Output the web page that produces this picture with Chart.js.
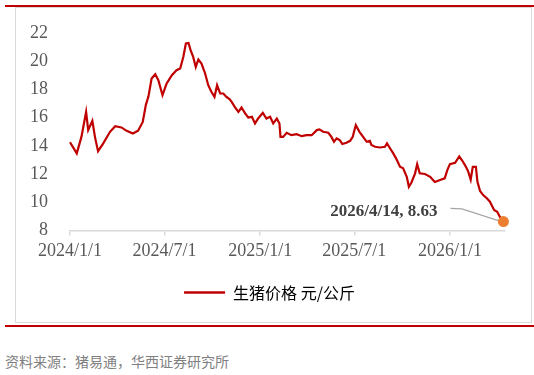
<!DOCTYPE html>
<html>
<head>
<meta charset="utf-8">
<script src="https://cdn.jsdelivr.net/npm/chart.js@4.4.1/dist/chart.umd.min.js"></script>
<style>
  html, body { margin: 0; padding: 0; background: #fff; }
  body { width: 534px; height: 375px; position: relative; overflow: hidden; }
  .redline { position: absolute; left: 5px; width: 529px; height: 2px; background: #c00000; }
  #frame { position: absolute; left: 15px; top: 7px; width: 517px; height: 316px; border: 1.5px solid #d9d9d9; box-sizing: border-box; }
  #wrap { position: absolute; left: 16px; top: 0px; width: 515px; height: 322px; }
  #source { position: absolute; left: 5px; top: 351px; font: 14px "Noto Sans CJK SC"; color: #808080; }
</style>
</head>
<body>
<div id="frame"></div>
<div id="wrap"><canvas id="c" width="515" height="322"></canvas></div>
<div class="redline" style="top:5px"></div>
<div class="redline" style="top:325px"></div>
<div id="source">资料来源：猪易通，华西证券研究所</div>
<script>
// 生猪价格 元/公斤
const dates = [
  '2024-01-01','2024-01-14','2024-01-23','2024-02-01','2024-02-05','2024-02-13','2024-02-18','2024-02-24',
  '2024-03-05','2024-03-18','2024-03-28','2024-04-09','2024-04-19','2024-05-01','2024-05-11','2024-05-20',
  '2024-05-26','2024-05-31','2024-06-06','2024-06-13','2024-06-19','2024-06-27','2024-07-05','2024-07-15',
  '2024-07-24','2024-07-31','2024-08-06','2024-08-11','2024-08-16','2024-08-20','2024-08-25','2024-08-30',
  '2024-09-04','2024-09-10','2024-09-17','2024-09-23','2024-09-29','2024-10-05','2024-10-10','2024-10-16',
  '2024-10-22','2024-10-28','2024-11-03','2024-11-07','2024-11-13','2024-11-20','2024-11-26','2024-12-03',
  '2024-12-09','2024-12-16','2024-12-22','2024-12-28','2025-01-06','2025-01-13','2025-01-20','2025-01-26',
  '2025-02-02','2025-02-07','2025-02-09','2025-02-14','2025-02-21','2025-03-02','2025-03-12','2025-03-22',
  '2025-03-31','2025-04-10','2025-04-20','2025-04-25','2025-05-02','2025-05-12','2025-05-18','2025-05-23',
  '2025-05-28','2025-06-03','2025-06-08','2025-06-16','2025-06-23','2025-06-28','2025-07-01','2025-07-04',
  '2025-07-11','2025-07-18','2025-07-25','2025-07-31','2025-08-03','2025-08-10','2025-08-19','2025-08-29',
  '2025-09-02','2025-09-08','2025-09-14','2025-09-21','2025-09-27','2025-10-03','2025-10-10','2025-10-14',
  '2025-10-19','2025-10-26','2025-10-30','2025-11-04','2025-11-14','2025-11-24','2025-12-03','2025-12-13',
  '2025-12-22','2025-12-27','2026-01-01','2026-01-11','2026-01-19','2026-01-24','2026-01-30','2026-02-05',
  '2026-02-10','2026-02-14','2026-02-20','2026-02-23','2026-02-28','2026-03-06','2026-03-13','2026-03-19',
  '2026-03-27','2026-04-02','2026-04-07','2026-04-14'
]
const prices = [
  14.25,13.46,14.63,16.40,15.11,15.77,14.63,13.62,
  14.17,14.99,15.39,15.30,15.06,14.87,15.06,15.69,
  16.90,17.50,18.76,19.07,18.64,17.58,18.41,19.00,
  19.35,19.47,20.29,21.24,21.28,20.77,20.29,19.58,
  20.11,19.82,19.12,18.29,17.82,17.46,18.29,17.70,
  17.70,17.46,17.30,17.11,16.76,16.40,16.71,16.29,
  16.00,16.05,15.58,15.93,16.33,15.93,16.05,15.58,
  15.93,15.58,14.63,14.63,14.92,14.75,14.82,14.68,
  14.75,14.75,15.11,15.16,14.99,14.92,14.63,14.28,
  14.52,14.40,14.12,14.21,14.35,14.63,15.06,15.46,
  14.99,14.63,14.28,14.35,14.05,13.93,13.88,13.93,
  14.17,13.81,13.46,12.99,12.51,12.40,11.80,11.10,
  11.40,12.05,12.70,12.05,12.00,11.80,11.43,11.57,
  11.69,12.28,12.70,12.79,13.25,12.99,12.63,12.20,
  11.60,12.51,12.51,11.45,10.80,10.51,10.28,10.04,
  9.45,9.33,8.98,8.63
]
const tickDates = ['2024-01-01','2024-07-01','2025-01-01','2025-07-01','2026-01-01']
const tickLabels = ['2024/1/1','2024/7/1','2025/1/1','2025/7/1','2026/1/1']
const axisEnd = '2026-04-17'
const seriesName = '生猪价格 元/公斤'

const t0 = Date.parse(dates[0])
const dayOf = s => Math.round((Date.parse(s) - t0) / 86400000)
const points = dates.map((d, i) => ({x: dayOf(d), y: prices[i]}))
const tickDays = tickDates.map(dayOf)
const last = points.length - 1

function endText() {
  let p = dates[last].split('-').map(Number)
  return p[0] + '/' + p[1] + '/' + p[2] + ', ' + prices[last].toFixed(2)
}

// leader line + value text next to the last point
const endLabel = {
  id: 'endLabel',
  beforeDatasetsDraw(chart) {
    let pt = chart.getDatasetMeta(0).data[last]
    let ctx = chart.ctx
    ctx.save()
    ctx.strokeStyle = '#a6a6a6'
    ctx.lineWidth = 1.2
    ctx.beginPath()
    ctx.moveTo(pt.x - 53, pt.y - 13.3)
    ctx.lineTo(pt.x - 41.5, pt.y - 12.7)
    ctx.lineTo(pt.x - 2, pt.y)
    ctx.stroke()
    ctx.font = 'bold 17px "Liberation Serif"'
    ctx.fillStyle = '#404040'
    ctx.textAlign = 'right'
    ctx.textBaseline = 'alphabetic'
    ctx.fillText(endText(), pt.x - 66, pt.y - 5.3)
    ctx.restore()
  }
}

// legend sits a bit right of the canvas centre in the original
const legendShift = {
  id: 'legendShift',
  afterLayout(chart) {
    chart.legend.left += 9
    chart.legend.right += 9
  }
}

new Chart(document.getElementById('c'), {
  type: 'line',
  data: {
    datasets: [{
      label: seriesName,
      data: points,
      borderColor: '#c00000',
      backgroundColor: '#c00000',
      borderWidth: 2.2,
      tension: 0,
      clip: false,
      pointStyle: 'circle',
      pointRadius: ctx => ctx.dataIndex === last ? 5.5 : 0,
      pointBackgroundColor: '#ed7d31',
      pointBorderWidth: 0
    }]
  },
  options: {
    responsive: false,
    animation: false,
    layout: { padding: { top: 15, right: 26, left: 0, bottom: 11.5 } },
    plugins: {
      tooltip: { enabled: false },
      legend: {
        position: 'bottom',
        labels: {
          usePointStyle: true,
          pointStyleWidth: 41,
          color: '#404040',
          font: { family: '"Noto Sans CJK SC"', size: 16 },
          generateLabels: chart => [{
            text: seriesName,
            pointStyle: 'line',
            strokeStyle: '#c00000',
            fillStyle: '#c00000',
            lineWidth: 2.5,
            datasetIndex: 0
          }]
        }
      }
    },
    scales: {
      x: {
        type: 'linear',
        min: 0,
        max: dayOf(axisEnd),
        afterFit: s => { s.height = 44 },
        afterBuildTicks: s => { s.ticks = tickDays.map(v => ({value: v})) },
        grid: { display: true, drawOnChartArea: false, drawTicks: true, tickLength: 5, color: '#d9d9d9', lineWidth: 1.5 },
        border: { display: true, color: '#d9d9d9', width: 1.5 },
        ticks: {
          autoSkip: false,
          maxRotation: 0,
          padding: 5,
          color: '#595959',
          font: { family: '"Liberation Serif"', size: 18 },
          callback: v => tickLabels[tickDays.indexOf(v)]
        }
      },
      y: {
        min: 8,
        max: 22,
        afterFit: s => { s.width = 54 },
        grid: { display: false, drawTicks: false },
        border: { display: false },
        ticks: {
          stepSize: 2,
          padding: 22,
          color: '#595959',
          font: { family: '"Liberation Serif"', size: 18 }
        }
      }
    }
  },
  plugins: [endLabel, legendShift]
})
</script>
</body>
</html>
